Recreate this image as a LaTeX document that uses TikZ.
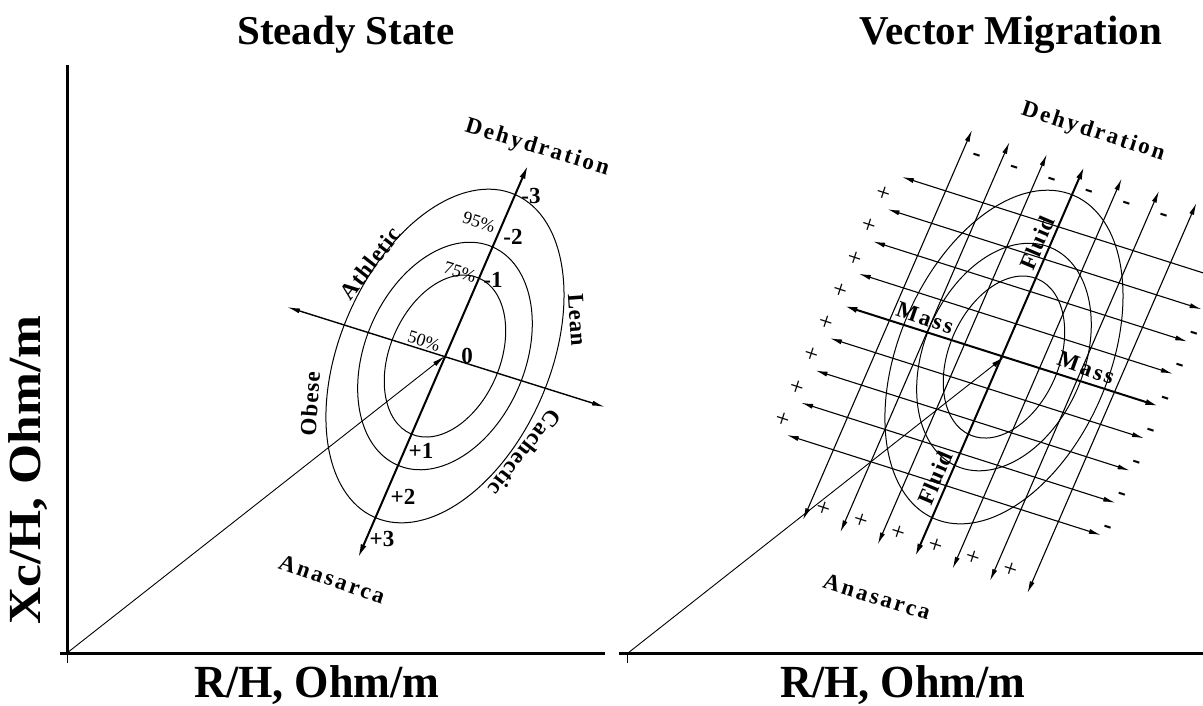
\documentclass[tikz,border=0pt]{standalone}
\usepackage{fontspec}
\setmainfont{Liberation Serif}
\newfontfamily\spacedA[LetterSpace=4]{Liberation Serif}
\newfontfamily\spacedB[LetterSpace=11]{Liberation Serif}
\usetikzlibrary{arrows.meta,calc}
\begin{document}
\begin{tikzpicture}[x=1pt,y=-1pt,
  axisline/.style={line width=3pt},
  ell/.style={line width=1pt},
  grid/.style={line width=1.1pt,{Latex[length=12pt,width=5pt]}-{Latex[length=12pt,width=5pt]}},
  gridbold/.style={line width=2pt,{Latex[length=13pt,width=6pt]}-{Latex[length=13pt,width=6pt]}},
  mainax/.style={line width=2pt,{Latex[length=14pt,width=6pt]}-{Latex[length=14pt,width=6pt]}},
  crossax/.style={line width=1.4pt,{Latex[length=13pt,width=5pt]}-{Latex[length=13pt,width=5pt]}},
  vec/.style={line width=0.9pt,-{Latex[length=13pt,width=5pt]}},
  title/.style={font=\bfseries\fontsize{41}{41}\selectfont, anchor=base, inner sep=0pt},
  axlab/.style={font=\bfseries\fontsize{46}{46}\selectfont, inner sep=0pt},
  elab/.style={font=\spacedA\bfseries\fontsize{23}{23}\selectfont, inner sep=0pt},
  dirlab/.style={font=\spacedB\bfseries\fontsize{23}{23}\selectfont, inner sep=0pt},
  tick/.style={font=\bfseries\fontsize{23}{23}\selectfont, inner sep=0pt},
  pct/.style={font=\fontsize{18}{18}\selectfont, inner sep=0pt, rotate=-17},
  sgnp/.style={font=\fontsize{25}{25}\selectfont, inner sep=0pt, rotate=-18},
  sgnm/.style={font=\bfseries\fontsize{25}{25}\selectfont, inner sep=0pt, rotate=-18},
]
\useasboundingbox (0,0) rectangle (1203,706);
\clip (0,0) rectangle (1203,706);

% ---------------- titles and axis labels
\node[title] (t1) at (346,45) {Steady State};
\node[title] (t2) at (1011,45) {Vector Migration};
\node[axlab, anchor=base, xscale=0.96] (xl1) at (317,697) {R/H, Ohm/m};
\node[axlab, anchor=base, xscale=0.96] (xl2) at (903,697) {R/H, Ohm/m};
\node[axlab, rotate=90, xscale=1.12] (yl) at (28,470) {Xc/H, Ohm/m};

% ---------------- left panel axes
\coordinate (O1) at (67,653);
\coordinate (YT) at (67,65);
\coordinate (XA1) at (60,653);
\coordinate (XB1) at (605,653);
\coordinate (TK1) at (67,663);
\draw[axisline] (YT) -- (O1);
\draw[axisline] (XA1) -- (XB1);
\draw[line width=1pt] (O1) -- (TK1);

% ---------------- left panel diagram
\coordinate (C1) at (445,356);
\coordinate (A1) at (358,558);
\coordinate (D1) at (528,165);
\coordinate (ML1) at (287,307);
\coordinate (MR1) at (605,407);
\foreach \a/\b in {176/105,119/80,85/55}
  \draw[ell, rotate around={66.6:(C1)}] (C1) ellipse [x radius=\a pt, y radius=\b pt];
\draw[crossax] (ML1) -- (MR1);
\draw[mainax] (A1) -- (D1);
\draw[vec] (O1) -- (C1);

\node[tick] (k3m) at (531,196) {-3};
\node[tick] (k2m) at (513,237) {-2};
\node[tick] (k1m) at (493,280) {-1};
\node[tick] (k0) at (467,356) {0};
\node[tick] (k1p) at (421,451) {+1};
\node[tick] (k2p) at (403,497) {+2};
\node[tick] (k3p) at (382,539) {+3};

\node[pct] (p95) at (479,222) {95\%};
\node[pct] (p75) at (460,272) {75\%};
\node[pct] (p50) at (424,341) {50\%};

\node[dirlab, rotate=-17] (deh1) at (537,148) {Dehydration};
\node[dirlab, rotate=-19] (ana1) at (332,579) {Anasarca};
\node[elab, rotate=52] (ath) at (370,263) {Athletic};
\node[elab, rotate=-86] (lean) at (577,320) {Lean};
\node[elab, rotate=86] (obe) at (310,404) {Obese};
\node[elab, rotate=-128] (cach) at (525,453) {Cachectic};

% ---------------- right panel axes
\coordinate (O2) at (628,653);
\coordinate (XA2) at (619,653);
\coordinate (XB2) at (1203,653);
\coordinate (TK2a) at (627,653);
\coordinate (TK2) at (627,663);
\draw[axisline] (XA2) -- (XB2);
\draw[line width=1pt] (TK2a) -- (TK2);

% ---------------- right panel diagram
\coordinate (C2) at (1004,357);
\foreach \a/\b in {176/105,119/80,85/55}
  \draw[ell, rotate around={66.6:(C2)}] (C2) ellipse [x radius=\a pt, y radius=\b pt];

\foreach \i in {1,...,9} {
  \coordinate (L\i) at ({902-14.4*(\i-1)},{177+32.25*(\i-1)});
  \coordinate (R\i) at ($(L\i)+(314,100)$);
}
\foreach \j in {1,...,7} {
  \coordinate (T\j) at ({972+37.4*(\j-1)},{130+12.17*(\j-1)});
  \coordinate (B\j) at ($(T\j)+(-169,390)$);
}
\foreach \i in {1,2,3,4,6,7,8,9} \draw[grid] (L\i) -- (R\i);
\foreach \j in {1,2,3,5,6,7} \draw[grid] (B\j) -- (T\j);
\draw[gridbold] (L5) -- (R5);
\draw[gridbold] (B4) -- (T4);
\draw[vec] (O2) -- (C2);

\foreach \j in {1,...,6} {
  \node[sgnm] (tm\j) at ($(T\j)+(4,27)$) {-};
  \node[sgnp] (bp\j) at ($(B\j)+(20,-11)$) {+};
}
\foreach \i in {1,...,8}
  \node[sgnp] (lp\i) at ($(L\i)+(-19,17)$) {+};
\foreach \i in {3,...,9}
  \node[sgnm] (rm\i) at ($(R\i)+(6,-6)$) {-};

\node[dirlab, rotate=-18] (deh2) at (1093,132) {Dehydration};
\node[dirlab, rotate=-17] (ana2) at (877,597) {Anasarca};
\node[dirlab, rotate=-19] (ms1) at (925,318) {Mass};
\node[dirlab, rotate=-20] (ms2) at (1086,368) {Mass};
\node[elab, rotate=67] (fl1) at (1037,243) {Fluid};
\node[elab, rotate=67] (fl2) at (935,478) {Fluid};
\end{tikzpicture}
\end{document}
